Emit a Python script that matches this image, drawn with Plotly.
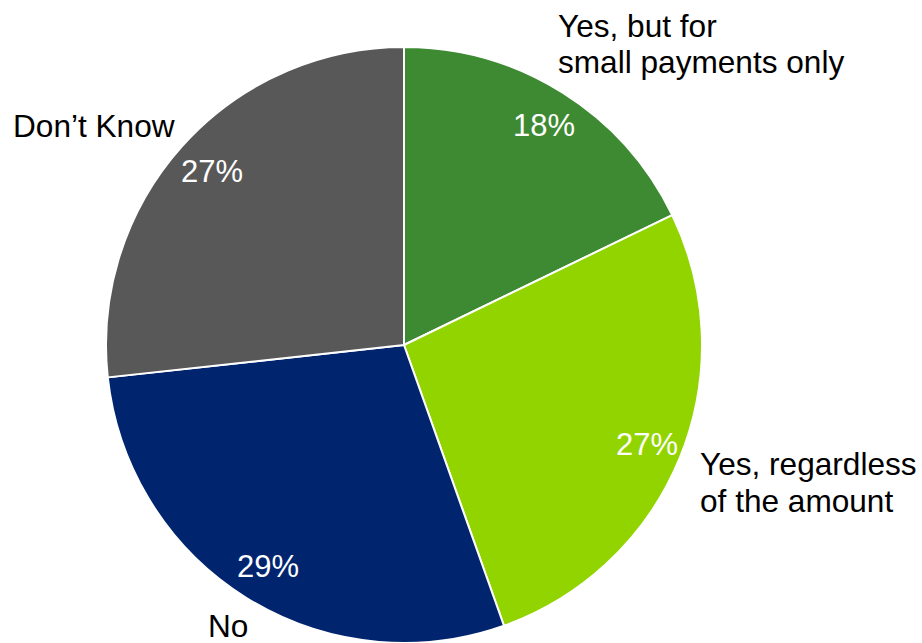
import math
import plotly.graph_objects as go

# Survey answers, clockwise from 12 o'clock
categories = ["Yes, but for small payments only", "Yes, regardless of the amount", "No", "Don\u2019t Know"]
values = [18, 27, 29, 27]
colors = ["#3e8a32", "#92d400", "#00256e", "#585858"]

W, H = 922, 643
CX, CY, R = 404, 345, 298  # pie centre and radius in pixels
FONT = "Liberation Sans, Arial"

fig = go.Figure(go.Pie(
    labels=categories,
    values=values,
    sort=False,
    direction="clockwise",
    rotation=0,
    textinfo="none",
    hoverinfo="skip",
    marker=dict(colors=colors, line=dict(color="white", width=2)),
    domain=dict(x=[(CX - R) / W, (CX + R) / W], y=[(H - CY - R) / H, (H - CY + R) / H]),
    showlegend=False,
))

def px(x, y):
    return x / W, 1 - y / H

annotations = []
# Percentages inside each slice, placed along the slice's middle angle
total = sum(values)
cum = 0
for v in values:
    mid = (cum + v / 2) / total * 2 * math.pi
    cum += v
    r = 0.875 * R
    x = CX + r * math.sin(mid) + 2
    y = CY - r * math.cos(mid)
    ax, ay = px(x, y + 1)
    annotations.append(dict(x=ax, y=ay, xref="paper", yref="paper", text=f"{v}%",
                            showarrow=False, xanchor="center", yanchor="middle",
                            font=dict(family=FONT, size=31, color="white")))

# Category names outside the pie
label_lines = [
    ("Yes, but for", 556, 25),
    ("small payments only", 556, 61),
    ("Yes, regardless", 698, 463),
    ("of the amount", 698, 500),
    ("No", 206, 625),
    ("Don\u2019t Know", 11, 125),
]
for text, x, y in label_lines:
    ax, ay = px(x, y + 1)
    annotations.append(dict(x=ax, y=ay, xref="paper", yref="paper", text=text,
                            showarrow=False, xanchor="left", yanchor="middle",
                            font=dict(family=FONT, size=31.6, color="black")))

fig.update_layout(
    width=W, height=H,
    margin=dict(l=0, r=0, t=0, b=0),
    paper_bgcolor="white",
    plot_bgcolor="white",
    annotations=annotations,
)

fig.write_html("out.html", config=dict(displayModeBar=False))
